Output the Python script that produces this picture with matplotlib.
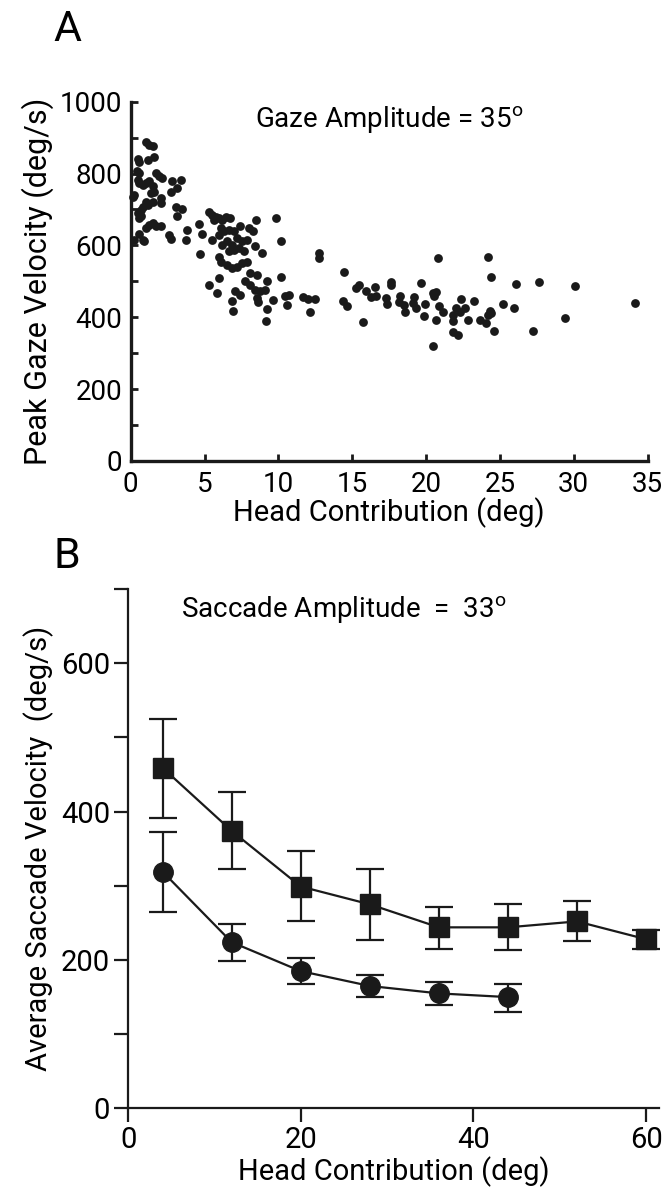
import matplotlib
matplotlib.use('Agg')
import matplotlib.pyplot as plt
from matplotlib.ticker import MultipleLocator

plt.rcParams['font.family'] = ['Roboto', 'DejaVu Sans']
plt.rcParams['mathtext.fontset'] = 'custom'
plt.rcParams['mathtext.rm'] = 'Roboto'

# panel A: head contribution (deg) vs peak gaze velocity (deg/s)
head_a = [1.03, 1.25, 1.48, 0.47, 0.58, 1.14, 1.59, 0.42, 0.58, 1.70, 1.92, 2.15, 0.47, 0.58,
          0.80, 1.03, 1.25, 1.48, 1.59, 1.36, 2.80, 3.37, 3.15, 2.70, 0.13, 0.25, 2.03, 2.03,
          1.48, 1.14, 0.80, 0.69, 1.03, 0.47, 0.58, 0.69, 3.04, 3.49, 3.15, 1.03, 1.25, 1.48,
          1.70, 2.03, 0.58, 0.25, 0.80, 0.91, 2.59, 2.70, 3.71, 3.82, 4.61, 4.83, 4.72,
          5.30, 5.52, 5.75, 5.97, 5.64, 6.19, 6.42, 6.75, 8.50, 9.84, 7.38, 7.98, 8.27, 10.20,
          6.08, 6.30, 6.64, 6.97, 5.52, 6.00, 6.19, 6.53, 6.86, 7.20, 7.53, 7.87, 8.43, 8.88,
          6.64, 6.97, 7.31, 7.64, 6.00, 6.08, 6.53, 6.86, 7.20, 7.53, 7.87, 8.10, 8.54, 9.20,
          10.15, 6.00, 5.30, 5.86, 7.09, 7.42, 6.86, 7.76, 8.10, 8.43, 8.76, 9.10, 8.54, 8.65,
          6.93, 9.26, 9.62, 9.17, 10.44, 10.73, 10.55, 11.66, 12.00, 12.15,
          12.74, 12.77, 14.42, 12.45, 14.40, 14.65, 15.24, 15.47, 15.92, 16.52, 16.26, 16.59,
          15.76, 17.60, 17.60, 17.30, 17.37, 18.26, 18.15, 18.53, 18.60, 19.16, 19.12, 19.34,
          20.79, 24.19, 24.37, 19.65, 20.46, 20.68, 20.55, 19.94, 19.83, 20.68, 20.90, 21.17,
          20.46, 22.33, 22.02, 22.62, 22.29, 21.84, 21.84, 22.85, 21.80, 22.17, 23.25, 23.67,
          24.03, 24.19, 24.41, 24.30, 24.57, 25.20, 25.98, 26.09,
          27.65, 30.07, 27.27, 29.40, 34.14]
peak_vel = [889, 880, 877, 840, 831, 837, 846, 806, 801, 801, 792, 788, 783, 774,
            769, 774, 778, 764, 750, 746, 778, 783, 760, 748, 736, 741, 732, 718,
            722, 713, 708, 699, 722, 690, 676, 681, 706, 702, 682, 648, 657, 662,
            653, 653, 632, 616, 616, 611, 630, 618, 616, 643, 660, 632, 577,
            694, 685, 680, 676, 671, 671, 680, 676, 671, 676, 653, 648, 639, 611,
            648, 639, 643, 639, 615, 630, 602, 611, 602, 620, 611, 615, 597, 579,
            583, 588, 592, 583, 569, 555, 546, 537, 541, 551, 555, 523, 518, 500,
            513, 509, 490, 467, 472, 462, 444, 500, 490, 476, 472, 476, 453, 442,
            417, 422, 448, 390, 458, 461, 435, 455, 451, 415,
            578, 566, 526, 451, 446, 430, 481, 490, 473, 483, 457, 460,
            388, 498, 490, 453, 436, 460, 442, 435, 414, 457, 439, 427,
            566, 569, 512, 495, 467, 469, 460, 437, 402, 393, 430, 414,
            321, 451, 427, 427, 414, 405, 389, 393, 360, 351, 446, 393,
            384, 405, 411, 418, 362, 437, 427, 492,
            497, 488, 362, 399, 439]

# panel B: average saccade velocity vs head contribution bins
head_b = [4, 12, 20, 28, 36, 44, 52, 60]
sq_mean = [459, 374, 299, 275, 244, 244, 252, 228]
sq_lo = [392, 322, 252, 227, 215, 213, 225, 215]
sq_hi = [525, 427, 347, 322, 272, 276, 279, 240]
circ_x = [4, 12, 20, 28, 36, 44]
circ_mean = [319, 224, 185, 165, 155, 150]
circ_lo = [265, 198, 168, 150, 140, 130]
circ_hi = [373, 249, 203, 180, 170, 168]

ink = '#1a1a1a'
fig = plt.figure(figsize=(6.67, 11.97), dpi=100)

# ---- panel A
axA = fig.add_axes([0.196, 0.615, 0.775, 0.30])
axA.scatter(head_a, peak_vel, s=40, color=ink, linewidths=0, zorder=3, clip_on=False)
axA.set_xlim(0, 35)
axA.set_ylim(0, 1000)
axA.xaxis.set_major_locator(MultipleLocator(5))
axA.yaxis.set_major_locator(MultipleLocator(200))
axA.yaxis.set_minor_locator(MultipleLocator(100))
for s in ['top', 'right']:
    axA.spines[s].set_visible(False)
for s in ['left', 'bottom']:
    axA.spines[s].set_linewidth(2.4)
    axA.spines[s].set_color(ink)
axA.tick_params(which='both', direction='in', width=2, length=5, color=ink, labelsize=20)
axA.tick_params(axis='y', pad=6)
axA.tick_params(axis='x', pad=7)
axA.set_xlabel('Head Contribution (deg)', fontsize=21, labelpad=0)
axA.set_ylabel('Peak Gaze Velocity (deg/s)', fontsize=22, labelpad=4)
axA.text(17.5, 950, r'Gaze Amplitude = 35$^{\rm o}$', fontsize=20, ha='center', va='center')
fig.text(0.08, 0.975, 'A', fontsize=31, ha='left', va='center')

# ---- panel B
axB = fig.add_axes([0.192, 0.074, 0.796, 0.434])
axB.errorbar(head_b, sq_mean, yerr=[[m - l for m, l in zip(sq_mean, sq_lo)],
                                   [h - m for m, h in zip(sq_mean, sq_hi)]],
             fmt='-s', color=ink, ms=14, lw=1.6, elinewidth=1.6, capsize=10, capthick=1.6)
axB.errorbar(circ_x, circ_mean, yerr=[[m - l for m, l in zip(circ_mean, circ_lo)],
                                     [h - m for m, h in zip(circ_mean, circ_hi)]],
             fmt='-o', color=ink, ms=14, lw=1.6, elinewidth=1.6, capsize=10, capthick=1.6)
axB.set_xlim(0, 61.5)
axB.set_ylim(0, 700)
axB.xaxis.set_major_locator(MultipleLocator(20))
axB.yaxis.set_major_locator(MultipleLocator(200))
axB.yaxis.set_minor_locator(MultipleLocator(100))
for s in ['top', 'right']:
    axB.spines[s].set_visible(False)
for s in ['left', 'bottom']:
    axB.spines[s].set_linewidth(1.6)
    axB.spines[s].set_color(ink)
axB.tick_params(which='both', direction='out', width=1.6, length=10, color=ink, labelsize=21, pad=3)
axB.set_xlabel('Head Contribution (deg)', fontsize=21, labelpad=1)
axB.set_ylabel('Average Saccade Velocity  (deg/s)', fontsize=21, labelpad=5)
axB.text(25, 672, r'Saccade Amplitude  =  33$^{\rm o}$', fontsize=20, ha='center', va='center')
fig.text(0.08, 0.535, 'B', fontsize=31, ha='left', va='center')

fig.savefig('out.png', dpi=100)
